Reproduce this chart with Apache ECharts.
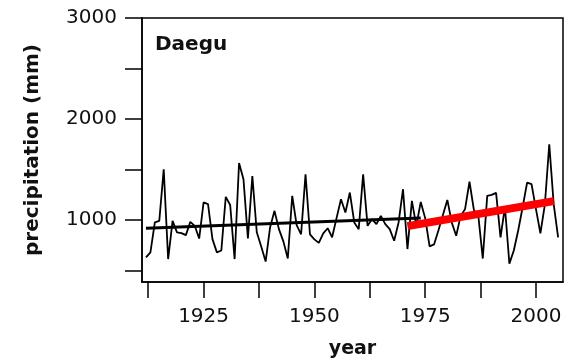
<!DOCTYPE html>
<html>
<head>
<meta charset="utf-8">
<script src="https://cdn.jsdelivr.net/npm/echarts@6/dist/echarts.min.js"></script>
<style>
  html, body { margin: 0; padding: 0; background: #fff; }
  #chart { width: 572px; height: 364px; }
</style>
</head>
<body>
<div id="chart"></div>
<script>
// Annual precipitation at Daegu (mm), one value per year starting in firstYear
const firstYear = 1912;
const precip = [
  632, 681, 977, 993, 1504, 615, 993, 879, 872, 852,
  983, 944, 818, 1175, 1158, 812, 681, 700, 1230, 1150,
  615, 1565, 1405, 820, 1437, 880, 740, 590, 928, 1092,
  911, 790, 620, 1240, 950, 860, 1454, 860, 810, 775,
  870, 920, 830, 1020, 1207, 1076, 1273, 977, 911, 1454,
  944, 1010, 960, 1042, 960, 911, 796, 977, 1306, 714,
  1191, 944, 1180, 1020, 740, 760, 900, 1050, 1200, 977,
  845, 1042, 1109, 1380, 1100, 1040, 620, 1240, 1250, 1270,
  830, 1130, 570, 700, 900, 1130, 1372, 1356, 1109, 870,
  1150, 1751, 1158, 830
];

// Fitted linear trends: early period and recent period
const trendEarly = [[1912, 921], [1974, 1020]];
const trendLate = [[1971, 941], [2004, 1188]];

// Axis ticks and labels
const yTicks = [500, 1000, 1500, 2000, 2500, 3000];
const yLabels = [1000, 2000, 3000];
const xTicks = [1912.5, 1925, 1937.5, 1950, 1962.5, 1975, 1987.5, 2000];
const xLabels = [1925, 1950, 1975, 2000];

const series = precip.map((v, i) => [firstYear + i, v]);

const font = 'DejaVu Sans';
const chart = echarts.init(document.getElementById('chart'), null, { renderer: 'canvas' });

chart.setOption({
  animation: false,
  backgroundColor: '#fff',
  grid: {
    left: 142, right: 9, top: 18, bottom: 81,
    show: true, borderColor: '#000', borderWidth: 1.5, backgroundColor: 'transparent'
  },
  title: {
    text: 'Daegu',
    left: 150, top: 30,
    textStyle: { fontFamily: font, fontWeight: 'bold', fontSize: 20, color: '#111' }
  },
  xAxis: {
    type: 'value',
    min: 1911.1, max: 2006.1,
    name: 'year',
    nameLocation: 'middle',
    nameGap: 58,
    nameTextStyle: { fontFamily: font, fontWeight: 'bold', fontSize: 19, color: '#111' },
    axisLine: { show: true, lineStyle: { color: '#000', width: 1.5 } },
    axisTick: { show: true, inside: false, length: 16, customValues: xTicks, lineStyle: { color: '#000', width: 1.5 } },
    axisLabel: { customValues: xLabels, margin: 25, fontFamily: font, fontSize: 20, color: '#111', formatter: v => String(v) },
    splitLine: { show: false }
  },
  yAxis: {
    type: 'value',
    min: 388, max: 3000,
    name: 'precipitation (mm)',
    nameLocation: 'middle',
    nameGap: 99,
    nameTextStyle: { fontFamily: font, fontWeight: 'bold', fontSize: 20, color: '#111' },
    axisLine: { show: true, lineStyle: { color: '#000', width: 1.5 } },
    axisTick: { show: true, inside: false, length: 17, customValues: yTicks, lineStyle: { color: '#000', width: 1.5 } },
    axisLabel: { customValues: yLabels, margin: 25, fontFamily: font, fontSize: 20, color: '#111', formatter: v => String(v) },
    splitLine: { show: false }
  },
  series: [
    {
      type: 'line', data: series, showSymbol: false, symbol: 'none',
      lineStyle: { color: '#000', width: 1.8 }, z: 2
    },
    {
      type: 'line', data: trendEarly, showSymbol: false, symbol: 'none',
      lineStyle: { color: '#000', width: 3 }, z: 3
    },
    {
      type: 'line', data: trendLate, showSymbol: false, symbol: 'none',
      lineStyle: { color: '#ff0000', width: 8 }, z: 4
    }
  ]
});
</script>
</body>
</html>
